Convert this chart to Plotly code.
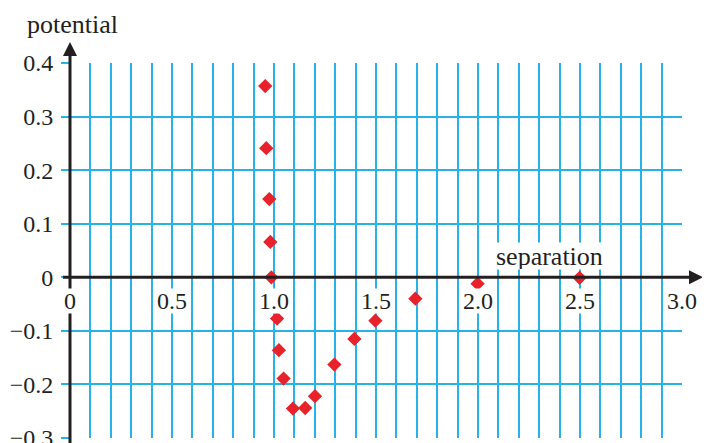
import plotly.graph_objects as go

# ---- data ----
separation = [0.957, 0.962, 0.977, 0.982, 0.987, 1.015, 1.024, 1.047, 1.093,
              1.153, 1.201, 1.296, 1.394, 1.497, 1.693, 1.998, 2.498]
potential = [0.357, 0.241, 0.146, 0.066, 0.000, -0.077, -0.136, -0.189, -0.245,
             -0.244, -0.222, -0.163, -0.115, -0.081, -0.040, -0.012, -0.001]

x_tick_vals = [0, 0.5, 1.0, 1.5, 2.0, 2.5, 3.0]
x_tick_text = ["0", "0.5", "1.0", "1.5", "2.0", "2.5", "3.0"]
y_tick_vals = [-0.3, -0.2, -0.1, 0, 0.1, 0.2, 0.3, 0.4]
y_tick_text = ["\u22120.3", "\u22120.2", "\u22120.1", "0", "0.1", "0.2", "0.3", "0.4"]

# ---- layout geometry (page body has an 8px margin) ----
OFF = 8
WIN_W, WIN_H = 710, 443
W, H = WIN_W - OFF, WIN_H - OFF
GX0, GX1 = 70, 682     # x = 0 .. 3   (window pixels)
GY0, GY1 = 63, 438     # y = 0.4 .. -0.3
ML = GX0 - OFF
MT = GY0 - OFF
MR = W - (GX1 - OFF)
MB = H - (GY1 - OFF)
XR = [0, 3.0]
YR = [-0.3, 0.4]
PW = W - ML - MR
PH = H - MT - MB

def px_to_paper_x(px):
    return (px - GX0) / PW

def px_to_paper_y(py):
    return (GY1 - py) / PH

def data_to_paper_y(v):
    return (v - YR[0]) / (YR[1] - YR[0])

GRID = "#27B2EA"
INK = "#231F20"
RED = "#E8222B"
FONT = "Liberation Serif"

fig = go.Figure()
fig.add_trace(go.Scatter(
    x=separation, y=potential, mode="markers",
    marker=dict(symbol="diamond", size=11, color=RED, line=dict(width=0)),
    cliponaxis=False, showlegend=False, hoverinfo="x+y",
))

y0p = data_to_paper_y(0)
shapes = [
    dict(type="line", xref="paper", yref="paper", x0=0, x1=0,
         y0=-0.05, y1=px_to_paper_y(52), line=dict(color=INK, width=3), layer="above"),
    dict(type="line", xref="paper", yref="paper", x0=px_to_paper_x(63), x1=px_to_paper_x(692),
         y0=y0p, y1=y0p, line=dict(color=INK, width=3), layer="above"),
    dict(type="path", xref="paper", yref="paper", xsizemode="pixel", ysizemode="pixel",
         xanchor=0, yanchor=px_to_paper_y(42), path="M 0 0 L -7 -14 L 7 -14 Z",
         fillcolor=INK, line=dict(width=0), layer="above"),
    dict(type="path", xref="paper", yref="paper", xsizemode="pixel", ysizemode="pixel",
         xanchor=px_to_paper_x(703), yanchor=y0p, path="M 0 0 L -14 7 L -14 -7 Z",
         fillcolor=INK, line=dict(width=0), layer="above"),
]

annotations = [
    dict(text="potential", xref="paper", yref="paper", x=px_to_paper_x(72), y=px_to_paper_y(9),
         xanchor="center", yanchor="top", showarrow=False, borderpad=0,
         font=dict(family=FONT, size=26, color=INK)),
    dict(text="separation", xref="x", yref="y", x=2.35, y=0.040,
         xanchor="center", yanchor="middle", showarrow=False, bgcolor="white", borderpad=0,
         height=26,
         font=dict(family=FONT, size=26, color=INK)),
]
for v, t in zip(x_tick_vals, x_tick_text):
    annotations.append(dict(text=t, xref="x", yref="paper", x=v, y=px_to_paper_y(301),
                            xanchor="center", yanchor="middle", showarrow=False,
                            bgcolor="white", borderpad=0, height=24,
                            font=dict(family=FONT, size=24, color=INK)))

fig.update_layout(
    width=W, height=H,
    margin=dict(l=ML, r=MR, t=MT, b=MB, pad=0, autoexpand=False),
    paper_bgcolor="white", plot_bgcolor="white",
    shapes=shapes, annotations=annotations,
    font=dict(family=FONT, size=24, color=INK),
    xaxis=dict(range=XR, dtick=0.1, tick0=0, showgrid=True, gridcolor=GRID, gridwidth=1.6,
               showticklabels=False, zeroline=False, showline=False, ticks="",
               automargin=False),
    yaxis=dict(range=YR, tickvals=y_tick_vals, ticktext=y_tick_text, showgrid=True,
               gridcolor=GRID, gridwidth=1.6, zeroline=False, showline=False,
               ticks="outside", ticklen=8, tickwidth=1.6, tickcolor=GRID,
               ticklabelstandoff=3, ticklabeloverflow="allow", automargin=False,
               tickfont=dict(family=FONT, size=24, color=INK)),
)

fig.write_html("out.html")
